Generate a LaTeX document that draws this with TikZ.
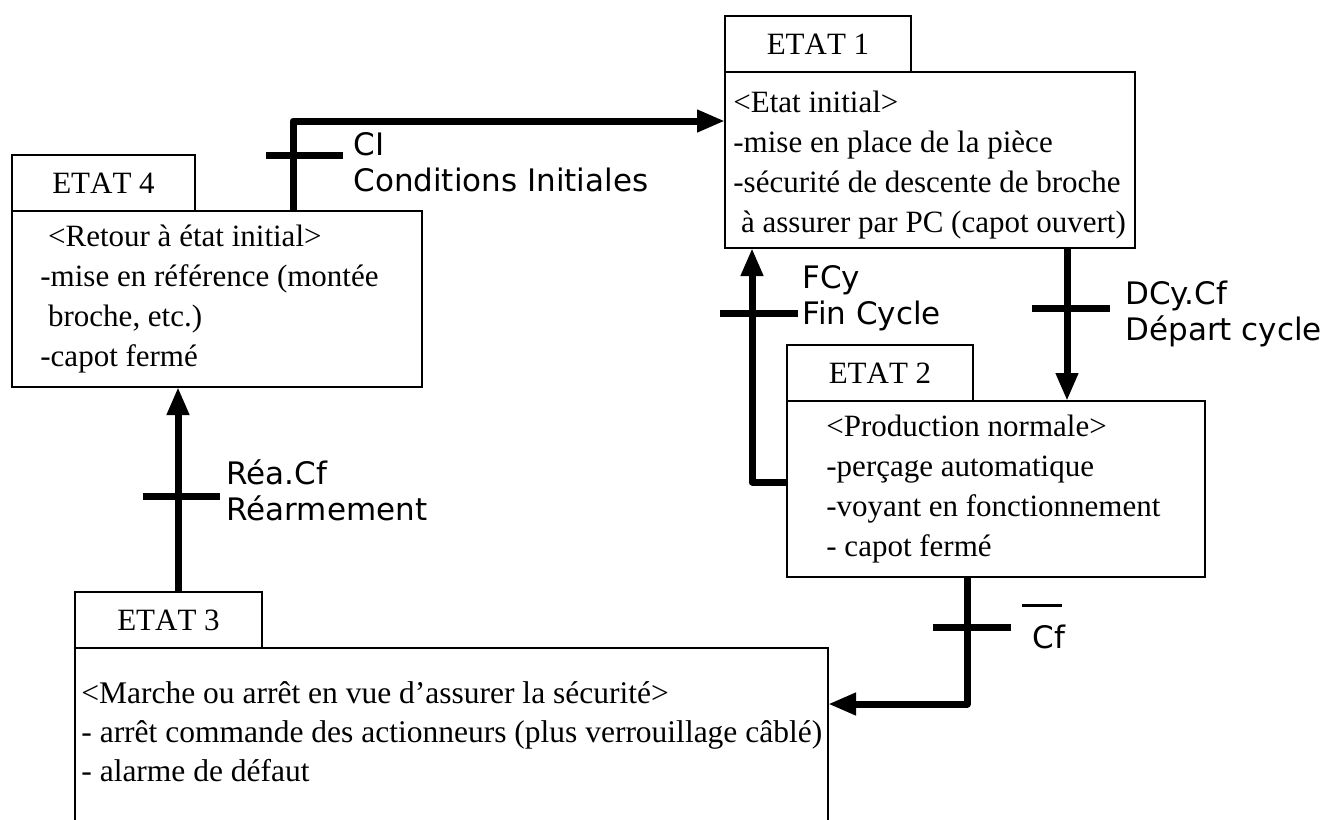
\documentclass[tikz,border=0pt]{standalone}
\usepackage{fontspec}
\setmainfont[Kerning=Off]{Liberation Serif}
\setsansfont{DejaVu Sans}
\usetikzlibrary{arrows.meta,positioning}

\tikzset{
  entete/.style={draw, line width=1.4pt, minimum height=28pt, inner sep=0pt, outer sep=0pt, anchor=north west, font=\fontsize{15.5}{20}\selectfont},
  corps/.style={draw, line width=1.4pt, inner sep=0pt, outer sep=0pt},
  texte/.style={anchor=west, align=left, inner sep=0pt, font=\fontsize{15.5}{20}\selectfont},
  recept/.style={anchor=west, align=left, inner sep=0pt, font=\sffamily\fontsize{15.5}{18}\selectfont},
  liaison/.style={line width=3.5pt, line join=round, -{Triangle[length=14pt,width=10.5pt]}},
  barre/.style={line width=3.5pt}
}

\begin{document}
\begin{tikzpicture}[x=0.5pt, y=-0.5pt]
\clip (0,0) rectangle (1343,819);

\node[entete, minimum width=93pt] (e1h) at (725,16) {ETAT 1};
\node[corps, minimum width=205pt, minimum height=88pt, below right=0pt and 0pt of e1h.south west] (e1) {};
\node[texte] (t1) at ([xshift=4pt,yshift=-2.5pt]e1.west) {<Etat initial>\\-mise en place de la pièce\\-sécurité de descente de broche\\\hspace*{.25em}à assurer par PC (capot ouvert)};

\node[entete, minimum width=91.5pt] (e4h) at (12,155) {ETAT 4};
\node[corps, minimum width=205pt, minimum height=88pt, below right=0pt and 0pt of e4h.south west] (e4) {};
\node[texte] (t4) at ([xshift=14pt]e4.west) {\hspace*{.25em}<Retour à état initial>\\-mise en référence (montée\\\hspace*{.25em}broche, etc.)\\-capot fermé};

\node[entete, minimum width=93pt] (e2h) at (787,345) {ETAT 2};
\node[corps, minimum width=209pt, minimum height=88pt, below right=0pt and 0pt of e2h.south west] (e2) {};
\node[texte] (t2) at ([xshift=19.5pt]e2.west) {<Production normale>\\-perçage automatique\\-voyant en fonctionnement\\- capot fermé};

\node[entete, minimum width=93.5pt] (e3h) at (75,592) {ETAT 3};
\node[corps, minimum width=376.5pt, minimum height=111pt, below right=0pt and 0pt of e3h.south west] (e3) {};
\node[texte, font=\fontsize{15.75}{19.5}\selectfont] (t3) at ([xshift=3pt,yshift=-42pt]e3.north west) {<Marche ou arrêt en vue d'assurer la sécurité>\\- arrêt commande des actionneurs (plus verrouillage câblé)\\- alarme de défaut};

\draw[liaison] ([xshift=140.5pt]e4.north west) |- ([yshift=19.5pt]e1.west);
\draw[liaison] ([xshift=171pt]e1.south west) -- ([xshift=140pt]e2.north west);
\draw[liaison] ([yshift=3.5pt]e2.west) -| ([xshift=13.5pt]e1.south west);
\draw[liaison] ([xshift=90pt]e2.south west) |- ([yshift=-28pt]e3.north east);
\draw[liaison] ([xshift=51.5pt]e3h.north west) -- ([xshift=83pt]e4.south west);

\draw[barre] (266,155) -- (343,155);
\draw[barre] (1032,308) -- (1110,308);
\draw[barre] (720,313) -- (798,313);
\draw[barre] (933,627) -- (1011,627);
\draw[barre] (143,496) -- (220,496);

\node[recept] (lci) at (353,162) {CI\\Conditions Initiales};
\node[recept] (ldcy) at (1125,314) {DCy.Cf\\Départ cycle};
\node[recept] (lfcy) at (802,298) {FCy\\Fin Cycle};
\node[recept] (lcf) at (1032,637) {Cf};
\draw[line width=1.5pt] (1022,605) -- (1062,605);
\node[recept] (lrea) at (226,490) {Réa.Cf\\Réarmement};
\end{tikzpicture}
\end{document}
